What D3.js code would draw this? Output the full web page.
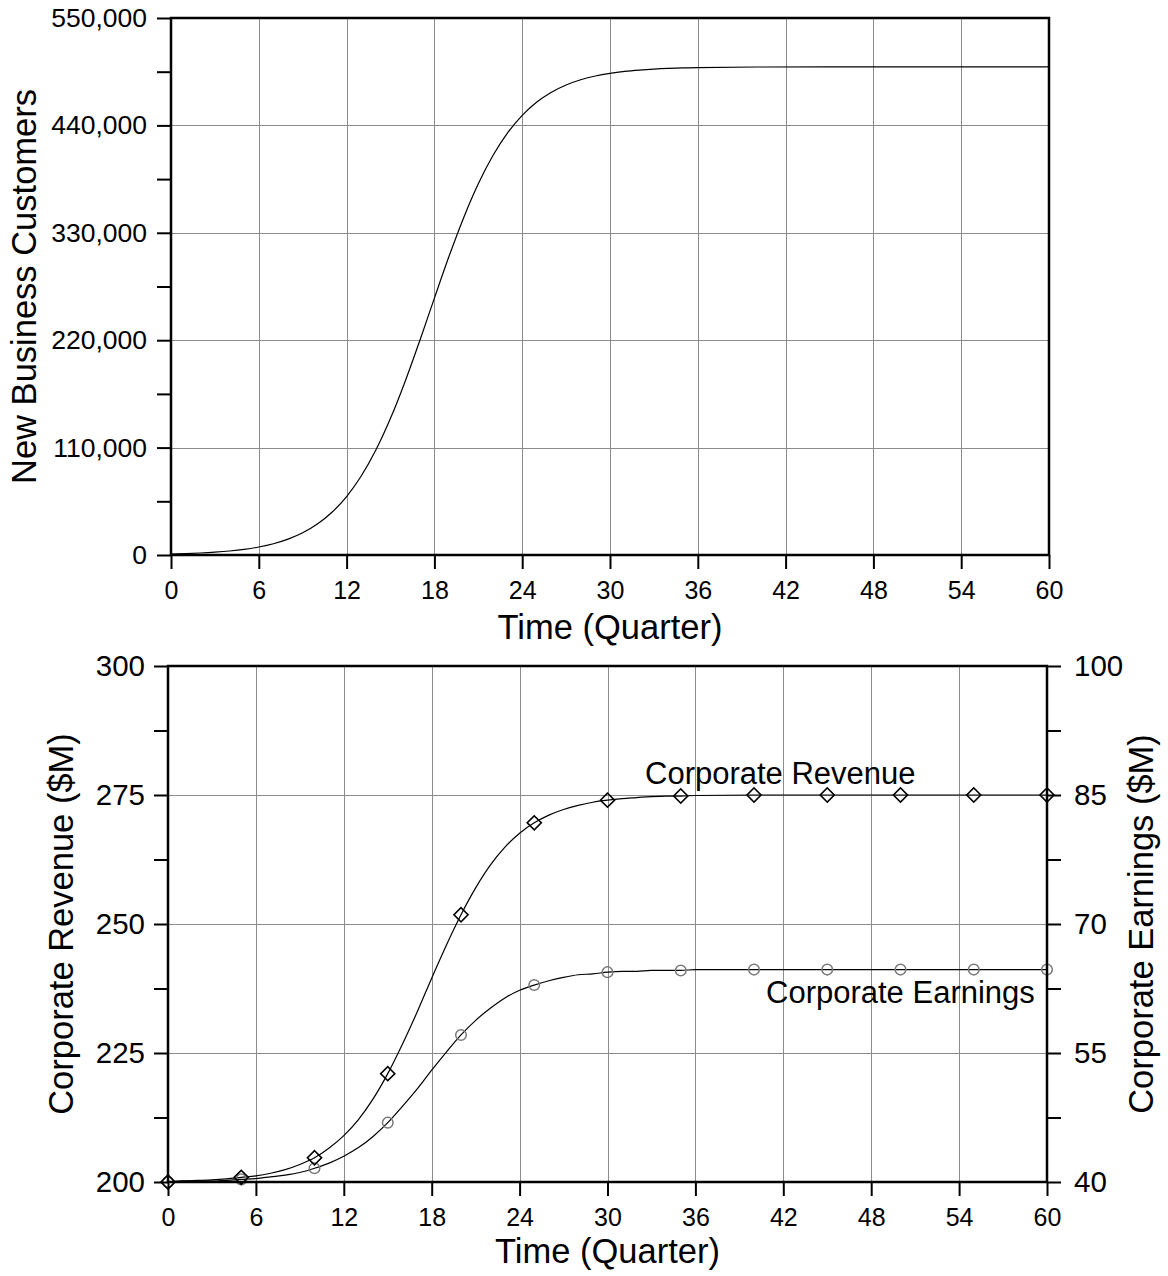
<!DOCTYPE html>
<html>
  <head>
    <script src="https://d3js.org/d3.v7.min.js" charset="utf-8"></script>
    <style type="text/css">
      body {
        margin: 0;
        background: #fff;
        font-family: "Liberation Sans", Arial, sans-serif;
      }
      .axis .domain { display: none; }
      .axis line { stroke: #000; stroke-width: 2; }
      .axis text { fill: #000; font-family: "Liberation Sans", Arial, sans-serif; }
      .xaxis text { font-size: 25px; }
      .yaxis-top text { font-size: 26.5px; }
      .yaxis-bot text { font-size: 29.5px; }
      .grid line { stroke: #8c8c8c; stroke-width: 1; shape-rendering: crispEdges; }
      .frame { fill: none; stroke: #000; stroke-width: 2.5; }
      .title { font-size: 34.5px; }
      .note { font-size: 31px; }
    </style>
  </head>
  <body>
    <script type="text/javascript">
      // quarters the curves are sampled at
      var quarters = [0, 1, 2, 3, 4, 5, 6, 7, 8, 9, 10, 11, 12, 13, 14, 15, 16, 17, 18, 19, 20,
                      21, 22, 23, 24, 25, 26, 27, 28, 29, 30, 31, 32, 33, 34, 35, 36, 40, 45, 50, 55, 60];

      var customers = [1000, 1450, 2050, 2900, 4100, 5800, 8200, 11550, 16250, 22700, 31650, 43750,
                       59850, 80900, 107500, 139950, 177750, 219500, 263100, 305900, 345500, 380200,
                       409150, 432350, 450350, 463950, 474050, 481450, 486750, 490600, 493350, 495300,
                       496650, 497650, 498350, 498850, 499150, 499800, 499950, 500000, 500000, 500000];

      var revenue = [200.0, 200.2, 200.3, 200.4, 200.6, 200.9, 201.2, 201.7, 202.4, 203.4, 204.7, 206.6,
                     209.0, 212.1, 216.1, 221.0, 226.7, 232.9, 239.5, 245.9, 251.8, 257.0, 261.4, 264.9,
                     267.6, 269.6, 271.1, 272.2, 273.0, 273.6, 274.0, 274.3, 274.5, 274.7, 274.8, 274.8,
                     274.9, 275.0, 275.0, 275.0, 275.0, 275.0];

      var earnings = [40.0, 40.1, 40.1, 40.1, 40.2, 40.3, 40.4, 40.6, 40.8, 41.1, 41.6, 42.2, 43.0, 44.0,
                      45.3, 46.9, 48.8, 50.8, 53.0, 55.1, 57.1, 58.8, 60.2, 61.4, 62.3, 62.9, 63.4, 63.8,
                      64.1, 64.2, 64.4, 64.5, 64.5, 64.6, 64.6, 64.6, 64.7, 64.7, 64.7, 64.7, 64.7, 64.7];

      var xTicks = [0, 6, 12, 18, 24, 30, 36, 42, 48, 54, 60];
      var customerTicks = [0, 110000, 220000, 330000, 440000, 550000];
      var customerMinor = [55000, 165000, 275000, 385000, 495000];
      var revenueTicks = [200, 225, 250, 275, 300];
      var revenueMinor = [212.5, 237.5, 262.5, 287.5];
      var earningsTicks = [40, 55, 70, 85, 100];
      var earningsMinor = [47.5, 62.5, 77.5, 92.5];

      var w = 1168, h = 1276;
      var svg = d3.select("body").append("svg")
          .attr("width", w)
          .attr("height", h);

      var rows = quarters.map(function (q, i) {
        return { q: q, c: customers[i], r: revenue[i], e: earnings[i] };
      });
      var marks = rows.filter(function (d) { return d.q % 5 === 0; });

      // ---------- top chart ----------
      var box1 = { left: 171, right: 1049, top: 18, bottom: 555 };
      var x1 = d3.scaleLinear().domain([0, 60]).range([box1.left, box1.right]);
      var y1 = d3.scaleLinear().domain([0, 550000]).range([box1.bottom, box1.top]);

      var g1 = svg.append("g");

      g1.append("g").attr("class", "grid")
        .selectAll("line").data(xTicks.slice(1, -1)).enter().append("line")
        .attr("x1", function (d) { return Math.round(x1(d)) + 0.5; })
        .attr("x2", function (d) { return Math.round(x1(d)) + 0.5; })
        .attr("y1", box1.top).attr("y2", box1.bottom);
      g1.append("g").attr("class", "grid")
        .selectAll("line").data(customerTicks.slice(1, -1)).enter().append("line")
        .attr("y1", function (d) { return Math.round(y1(d)) + 0.5; })
        .attr("y2", function (d) { return Math.round(y1(d)) + 0.5; })
        .attr("x1", box1.left).attr("x2", box1.right);

      g1.append("path")
        .datum(rows)
        .attr("fill", "none")
        .attr("stroke", "#000")
        .attr("stroke-width", 1.2)
        .attr("d", d3.line()
          .x(function (d) { return x1(d.q); })
          .y(function (d) { return y1(d.c); })
          .curve(d3.curveMonotoneX));

      g1.append("g").attr("class", "axis xaxis")
        .attr("transform", "translate(0," + box1.bottom + ")")
        .call(d3.axisBottom(x1).tickValues(xTicks).tickSize(14).tickSizeOuter(0).tickPadding(12));
      g1.append("g").attr("class", "axis yaxis-top")
        .attr("transform", "translate(" + box1.left + ",0)")
        .call(d3.axisLeft(y1).tickValues(customerTicks).tickSize(14).tickSizeOuter(0).tickPadding(10)
          .tickFormat(d3.format(",")));
      g1.append("g").attr("class", "axis")
        .attr("transform", "translate(" + box1.left + ",0)")
        .call(d3.axisLeft(y1).tickValues(customerMinor).tickSize(14).tickSizeOuter(0).tickFormat(""));

      g1.append("rect").attr("class", "frame")
        .attr("x", box1.left).attr("y", box1.top)
        .attr("width", box1.right - box1.left).attr("height", box1.bottom - box1.top);

      g1.append("text").attr("class", "title")
        .attr("text-anchor", "middle")
        .attr("transform", "translate(36," + (box1.top + box1.bottom) / 2 + ") rotate(-90)")
        .text("New Business Customers");
      g1.append("text").attr("class", "title")
        .attr("text-anchor", "middle")
        .attr("x", (box1.left + box1.right) / 2).attr("y", 639)
        .text("Time (Quarter)");

      // ---------- bottom chart ----------
      var box2 = { left: 168, right: 1047, top: 666, bottom: 1182 };
      var x2 = d3.scaleLinear().domain([0, 60]).range([box2.left, box2.right]);
      var yL = d3.scaleLinear().domain([200, 300]).range([box2.bottom, box2.top]);
      var yR = d3.scaleLinear().domain([40, 100]).range([box2.bottom, box2.top]);

      var g2 = svg.append("g");

      g2.append("g").attr("class", "grid")
        .selectAll("line").data(xTicks.slice(1, -1)).enter().append("line")
        .attr("x1", function (d) { return Math.round(x2(d)) + 0.5; })
        .attr("x2", function (d) { return Math.round(x2(d)) + 0.5; })
        .attr("y1", box2.top).attr("y2", box2.bottom);
      g2.append("g").attr("class", "grid")
        .selectAll("line").data(revenueTicks.slice(1, -1)).enter().append("line")
        .attr("y1", function (d) { return Math.round(yL(d)) + 0.5; })
        .attr("y2", function (d) { return Math.round(yL(d)) + 0.5; })
        .attr("x1", box2.left).attr("x2", box2.right);

      var line = d3.line().curve(d3.curveMonotoneX).x(function (d) { return x2(d.q); });

      g2.append("path").datum(rows)
        .attr("fill", "none").attr("stroke", "#000").attr("stroke-width", 1.2)
        .attr("d", line.y(function (d) { return yL(d.r); }));
      g2.append("path").datum(rows)
        .attr("fill", "none").attr("stroke", "#000").attr("stroke-width", 1.2)
        .attr("d", line.y(function (d) { return yR(d.e); }));

      // earnings circles
      g2.selectAll("circle.earn").data(marks).enter().append("circle")
        .attr("class", "earn")
        .attr("cx", function (d) { return x2(d.q); })
        .attr("cy", function (d) { return yR(d.e); })
        .attr("r", 5.3)
        .attr("fill", "none")
        .attr("stroke", "#7a7a7a")
        .attr("stroke-width", 1.5);

      // revenue diamonds
      g2.selectAll("path.rev").data(marks).enter().append("path")
        .attr("class", "rev")
        .attr("d", d3.symbol().type(d3.symbolSquare).size(100))
        .attr("transform", function (d) {
          return "translate(" + x2(d.q) + "," + yL(d.r) + ") rotate(45)";
        })
        .attr("fill", "none")
        .attr("stroke", "#000")
        .attr("stroke-width", 1.6);

      g2.append("g").attr("class", "axis xaxis")
        .attr("transform", "translate(0," + box2.bottom + ")")
        .call(d3.axisBottom(x2).tickValues(xTicks).tickSize(14).tickSizeOuter(0).tickPadding(12));
      g2.append("g").attr("class", "axis yaxis-bot")
        .attr("transform", "translate(" + box2.left + ",0)")
        .call(d3.axisLeft(yL).tickValues(revenueTicks).tickSize(14).tickSizeOuter(0).tickPadding(9));
      g2.append("g").attr("class", "axis")
        .attr("transform", "translate(" + box2.left + ",0)")
        .call(d3.axisLeft(yL).tickValues(revenueMinor).tickSize(14).tickSizeOuter(0).tickFormat(""));
      g2.append("g").attr("class", "axis yaxis-bot")
        .attr("transform", "translate(" + box2.right + ",0)")
        .call(d3.axisRight(yR).tickValues(earningsTicks).tickSize(14).tickSizeOuter(0).tickPadding(13));
      g2.append("g").attr("class", "axis")
        .attr("transform", "translate(" + box2.right + ",0)")
        .call(d3.axisRight(yR).tickValues(earningsMinor).tickSize(14).tickSizeOuter(0).tickFormat(""));

      g2.append("rect").attr("class", "frame")
        .attr("x", box2.left).attr("y", box2.top)
        .attr("width", box2.right - box2.left).attr("height", box2.bottom - box2.top);

      g2.append("text").attr("class", "note")
        .attr("x", 645).attr("y", 784)
        .text("Corporate Revenue");
      g2.append("text").attr("class", "note")
        .attr("x", 766).attr("y", 1003)
        .text("Corporate Earnings");

      g2.append("text").attr("class", "title")
        .attr("text-anchor", "middle")
        .attr("transform", "translate(73," + (box2.top + box2.bottom) / 2 + ") rotate(-90)")
        .text("Corporate Revenue ($M)");
      g2.append("text").attr("class", "title")
        .attr("text-anchor", "middle")
        .attr("transform", "translate(1153," + (box2.top + box2.bottom) / 2 + ") rotate(-90)")
        .text("Corporate Earnings ($M)");
      g2.append("text").attr("class", "title")
        .attr("text-anchor", "middle")
        .attr("x", (box2.left + box2.right) / 2).attr("y", 1263)
        .text("Time (Quarter)");
    </script>
  </body>
</html>
